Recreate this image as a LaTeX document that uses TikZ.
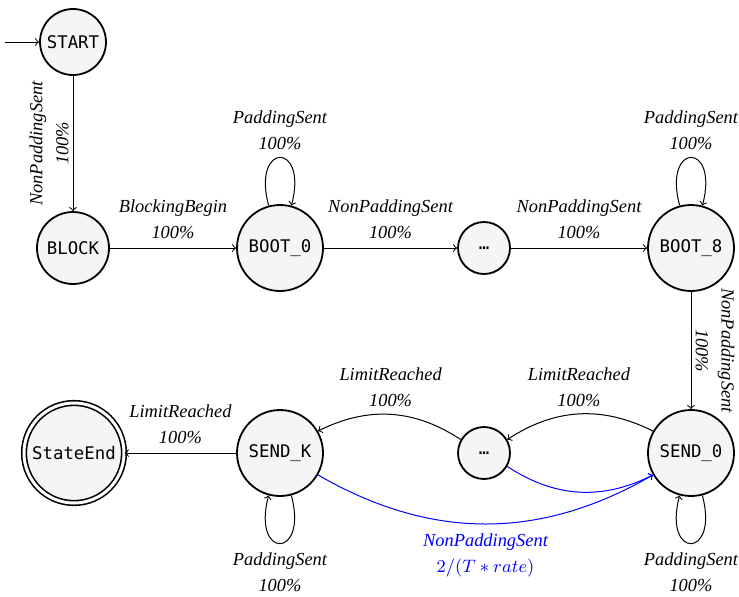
\documentclass[tikz,border=0pt]{standalone}
\usepackage{fontspec}
\newfontfamily\statefont{DejaVu Sans Mono}
\newfontfamily\lblfont{Liberation Serif}
\begin{document}
\begin{tikzpicture}[x=0.5pt,y=0.5pt,
  state/.style={circle,draw,line width=0.9pt,fill=gray!8,inner sep=0pt,font=\statefont\fontsize{8.7}{10}\selectfont},
  lbl/.style={font=\lblfont\fontsize{9.2}{13}\selectfont\itshape,align=center,inner sep=2pt},
  tr/.style={->,line width=0.5pt},
  np/.style={tr,blue}
]
\useasboundingbox (0,0) rectangle (739,-596);
\node[state,minimum size=33pt] (start) at (73,-42) {START};
\node[state,minimum size=36pt] (block) at (73,-248) {BLOCK};
\node[state,minimum size=43pt] (b0) at (280,-248) {BOOT\_0};
\node[state,minimum size=26pt] (d1) at (484,-248) {…};
\node[state,minimum size=43pt] (b8) at (691,-248) {BOOT\_8};
\node[state,minimum size=43pt] (s0) at (691,-453) {SEND\_0};
\node[state,minimum size=26pt] (d2) at (484,-453) {…};
\node[state,minimum size=43pt] (sk) at (280,-453) {SEND\_K};
\node[state,minimum size=50pt,double,double distance=1.5pt,line width=0.8pt] (end) at (74,-453) {StateEnd};
\coordinate (init) at (5,-42);

\draw[tr] (init) -- (start);
\draw[tr] (start) -- node[lbl,rotate=90,anchor=south]{NonPaddingSent\\100\%} (block);
\draw[tr] (block) -- node[lbl,above=2.5pt]{BlockingBegin\\100\%} (b0);
\draw[tr] (b0) -- node[lbl,above=2.5pt]{NonPaddingSent\\100\%} (d1);
\draw[tr] (d1) -- node[lbl,above=2.5pt]{NonPaddingSent\\100\%} (b8);
\draw[tr] (b8) -- node[lbl,rotate=-90,anchor=south]{NonPaddingSent\\100\%} (s0);
\draw[tr] (s0) to[bend right=30] node[lbl,above=1.5pt]{LimitReached\\100\%} (d2);
\draw[tr] (d2) to[bend right=30] node[lbl,above=1.5pt]{LimitReached\\100\%} (sk);
\draw[tr] (sk) -- node[lbl,above=2.5pt]{LimitReached\\100\%} (end);
\draw[tr] (b0) to[loop above,looseness=7.5] node[lbl,above=1.5pt]{PaddingSent\\100\%} (b0);
\draw[tr] (b8) to[loop above,looseness=7.5] node[lbl,above=1.5pt]{PaddingSent\\100\%} (b8);
\draw[tr] (sk) to[loop below,looseness=7.5] node[lbl,below=2.5pt]{PaddingSent\\100\%} (sk);
\draw[tr] (s0) to[loop below,looseness=7.5] node[lbl,below=2.5pt]{PaddingSent\\100\%} (s0);
\draw[np] (d2) to[bend right=30] (s0);
\draw[np] (sk) to[bend right=30] node[lbl,below=2.5pt,text=blue]{NonPaddingSent\\$2/(T\ast rate)$} (s0);
\end{tikzpicture}
\end{document}
